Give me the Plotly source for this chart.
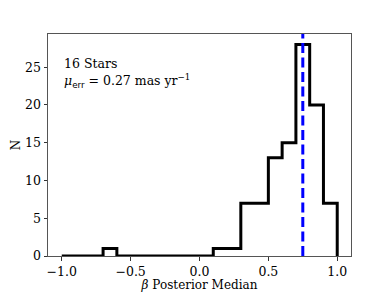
import plotly.graph_objects as go

bin_edges = [-1.0, -0.9, -0.8, -0.7, -0.6, -0.5, -0.4, -0.3, -0.2, -0.1, 0.0,
             0.1, 0.2, 0.3, 0.4, 0.5, 0.6, 0.7, 0.8, 0.9, 1.0]
counts = [0, 0, 0, 1, 0, 0, 0, 0, 0, 0, 0, 1, 1, 7, 7, 13, 15, 28, 20, 7]
median_beta = 0.75
x_ticks = [-1.0, -0.5, 0.0, 0.5, 1.0]
y_ticks = [0, 5, 10, 15, 20, 25]

FONT = "DejaVu Serif"

fig = go.Figure()
fig.add_trace(go.Scatter(
    x=bin_edges, y=counts + [0], mode="lines", line_shape="hv",
    line=dict(color="black", width=3), showlegend=False, hoverinfo="skip"))
fig.add_vline(x=median_beta, line=dict(color="#0000ff", width=3, dash="10px,4.5px"))

fig.add_annotation(x=0.045, y=0.869, xref="paper", yref="paper", xanchor="left", yanchor="middle",
                   text="16 Stars", showarrow=False, font=dict(family=FONT, size=12.5, color="black"))
fig.add_annotation(x=0.045, y=0.79, xref="paper", yref="paper", xanchor="left", yanchor="middle",
                   text="<i>μ</i><sub><span style=\"font-family:'DejaVu Sans'\">err</span></sub> = 0.27 mas yr<sup>−1</sup>",
                   showarrow=False, font=dict(family=FONT, size=12.5, color="black"))

axis_common = dict(showgrid=False, zeroline=False, showline=True, linecolor="#555555", linewidth=1,
                   mirror=True, ticks="outside", ticklen=3.5, tickcolor="#333333", tickwidth=1,
                   automargin=False,
                   tickfont=dict(family=FONT, size=12.5, color="black"))
fig.update_xaxes(range=[-1.1, 1.1], tickvals=x_ticks, tickformat=".1f",
                 title=dict(text="<i>β</i> Posterior Median", font=dict(family=FONT, size=12, color="black"), standoff=2),
                 **axis_common)
fig.update_yaxes(range=[0, 29.4], tickvals=y_ticks,
                 title=dict(text="N", font=dict(family=FONT, size=12, color="black"), standoff=1),
                 **axis_common)

fig.update_layout(width=390, height=293, margin=dict(l=48, r=39, t=34, b=37),
                  plot_bgcolor="white", paper_bgcolor="white")
fig.write_html("out.html", config={"displayModeBar": False},
               post_script="document.body.style.margin='0px';document.body.style.overflow='hidden';")
